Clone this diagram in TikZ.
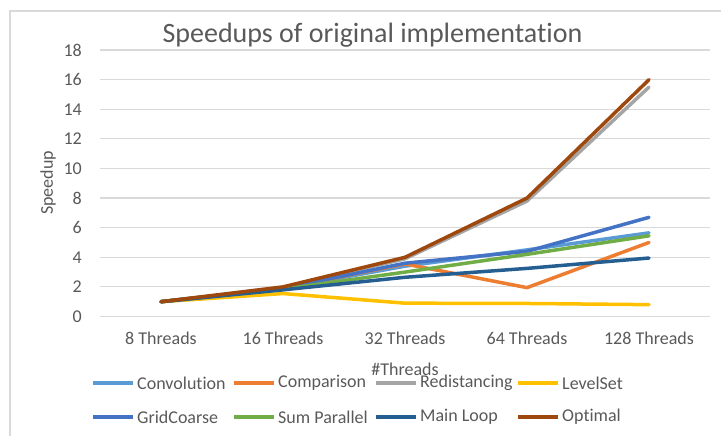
\documentclass[tikz,border=0pt]{standalone}
\usepackage{fontspec}
\setmainfont{Carlito}[Ligatures=NoCommon]
\definecolor{txt}{HTML}{595959}
\definecolor{gridc}{HTML}{D9D9D9}
\definecolor{cConv}{HTML}{5B9BD5}
\definecolor{cComp}{HTML}{ED7D31}
\definecolor{cRedi}{HTML}{A5A5A5}
\definecolor{cLevel}{HTML}{FFC000}
\definecolor{cGrid}{HTML}{4472C4}
\definecolor{cSum}{HTML}{70AD47}
\definecolor{cMain}{HTML}{255E91}
\definecolor{cOpt}{HTML}{9E480E}
\begin{document}
\begin{tikzpicture}[x=1bp,y=1bp,
  lab/.style={text=txt, font=\fontsize{18bp}{20bp}\selectfont, inner sep=0pt},
  ser/.style={line width=3.5bp, line join=round, line cap=round},
  gline/.style={draw=gridc, line width=1.2bp},
  legline/.style={line width=3.5bp}]
\useasboundingbox (0,0) rectangle (721,436);
% chart frame
\draw[gridc, line width=1.2bp] (10,-5) -- (10,425) -- (730,425);
% title
\node[text=txt, font=\fontsize{28bp}{30bp}\selectfont, inner sep=0pt] (title) at (372.5,401) {Speedups of original implementation};
% gridlines and y labels
\foreach \v in {0,2,...,18}{
  \draw[gline] (100,{119.5+14.8*\v}) -- (710,{119.5+14.8*\v});
  \node[lab, anchor=east] (y\v) at (82,{119.5+14.8*\v}) {\v};
}
% x labels
\node[lab] (x8) at (161,98) {8 Threads};
\node[lab] (x16) at (283,98) {16 Threads};
\node[lab] (x32) at (405,98) {32 Threads};
\node[lab] (x64) at (527,98) {64 Threads};
\node[lab] (x128) at (649,98) {128 Threads};
% axis titles
\node[lab, rotate=90] (ytitle) at (48,253) {Speedup};
\node[lab] (xtitle) at (405,67) {\#Threads};
% series
\begin{scope}[shift={(0,119.5)}, y=14.8bp]
\draw[ser, cConv] (161,1) -- (283,1.9) -- (405,3.4) -- (527,4.5) -- (649,5.65);
\draw[ser, cComp] (161,1) -- (283,1.9) -- (405,3.55) -- (527,1.95) -- (649,5.0);
\draw[ser, cRedi] (161,1) -- (283,1.95) -- (405,3.9) -- (527,7.8) -- (649,15.5);
\draw[ser, cLevel] (161,1) -- (283,1.55) -- (405,0.9) -- (527,0.88) -- (649,0.8);
\draw[ser, cGrid] (161,1) -- (283,1.9) -- (405,3.6) -- (527,4.4) -- (649,6.7);
\draw[ser, cSum] (161,1) -- (283,1.85) -- (405,3.0) -- (527,4.2) -- (649,5.45);
\draw[ser, cMain] (161,1) -- (283,1.8) -- (405,2.65) -- (527,3.25) -- (649,3.95);
\draw[ser, cOpt] (161,1) -- (283,2) -- (405,4) -- (527,8) -- (649,16);
\end{scope}
% legend row 1
\draw[legline, cConv] (93,53) -- (133,53);
\node[lab, anchor=west] (lConv) at (137,53) {Convolution};
\draw[legline, cComp] (234,53) -- (274,53);
\node[lab, anchor=west] (lComp) at (278,53) {Comparison};
\draw[legline, cRedi] (376,53) -- (416,53);
\node[lab, anchor=west] (lRedi) at (420,53) {Redistancing};
\draw[legline, cLevel] (518,53) -- (558,53);
\node[lab, anchor=west] (lLevel) at (562,53) {LevelSet};
% legend row 2
\draw[legline, cGrid] (93,19) -- (133,19);
\node[lab, anchor=west] (lGrid) at (137,19) {GridCoarse};
\draw[legline, cSum] (234,19) -- (274,19);
\node[lab, anchor=west] (lSum) at (278,19) {Sum Parallel};
\draw[legline, cMain] (376,19) -- (416,19);
\node[lab, anchor=west] (lMain) at (420,19) {Main Loop};
\draw[legline, cOpt] (518,19) -- (558,19);
\node[lab, anchor=west] (lOpt) at (562,19) {Optimal};
\end{tikzpicture}
\end{document}
